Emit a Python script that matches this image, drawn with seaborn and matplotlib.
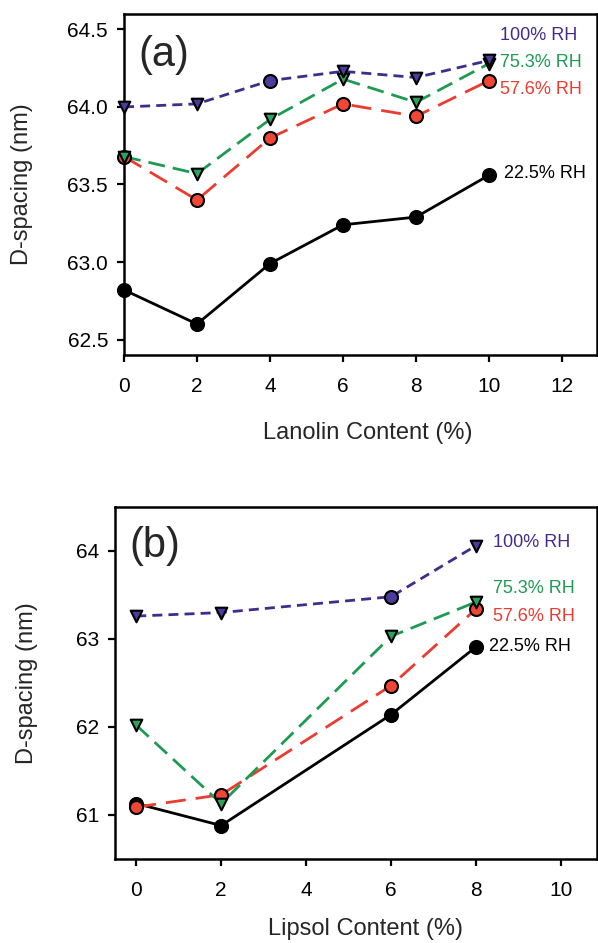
import numpy as np
import pandas as pd
import matplotlib.pyplot as plt
import seaborn as sns

# panel (a): lanolin
lan_x = [0, 2, 4, 6, 8, 10]
lan_225 = [62.82, 62.60, 62.99, 63.24, 63.29, 63.56]
lan_576 = [63.68, 63.40, 63.80, 64.02, 63.94, 64.17]
lan_753 = [63.68, 63.57, 63.92, 64.18, 64.03, 64.28]
lan_100 = [64.00, 64.02, 64.17, 64.23, 64.19, 64.30]
lan_100_marks = ['v', 'v', 'o', 'v', 'v', 'v']

# panel (b): lipsol
lip_x = [0, 2, 6, 8]
lip_225 = [61.13, 60.88, 62.14, 62.91]
lip_576 = [61.09, 61.23, 62.47, 63.34]
lip_753 = [62.02, 61.13, 63.03, 63.42]
lip_100 = [63.26, 63.30, 63.48, 64.06]
lip_100_marks = ['v', 'v', 'o', 'v']

rh_labels = ['22.5% RH', '57.6% RH', '75.3% RH', '100% RH']

sns.set_style("ticks")
plt.rcParams['font.family'] = ['Liberation Sans', 'DejaVu Sans']

purple = '#3f2d8c'
green = '#1e9a52'
red = '#ec3b30'
black = '#000000'
fill_purple = '#4b3b9b'
fill_green = '#2fa35c'
fill_red = '#ef4636'

styles = [
    # line color, fill, dashes, default marker
    (black, black, None, 'o'),
    (red, fill_red, (7.2, 3.6), 'o'),
    (green, fill_green, (6.1, 2.9), 'v'),
    (purple, fill_purple, (3.6, 2.2), 'v'),
]

fig = plt.figure(figsize=(5.98, 9.43), dpi=100)
ax1 = fig.add_axes([0.2074, 0.6235, 0.791, 0.3617])
ax2 = fig.add_axes([0.1923, 0.0891, 0.806, 0.3733])


def draw(ax, x, series, marks100):
    for i, y in enumerate(series):
        color, fill, dash, mk = styles[i]
        sns.lineplot(x=x, y=y, ax=ax, color=color, lw=2.0, legend=False)
        l = ax.lines[-1]
        l.set_clip_on(False)
        if dash is not None:
            l.set_dashes(dash)
        marks = marks100 if i == 3 else [mk] * len(x)
        for m in set(marks):
            xs = [xx for xx, mm in zip(x, marks) if mm == m]
            ys = [yy for yy, mm in zip(y, marks) if mm == m]
            s = 88 if m == 'o' else 70
            sns.scatterplot(x=xs, y=ys, ax=ax, marker=m, s=s, color=fill,
                            edgecolor='black', linewidth=1.5, zorder=5,
                            clip_on=False, legend=False)


draw(ax1, lan_x, [lan_225, lan_576, lan_753, lan_100], lan_100_marks)
draw(ax2, lip_x, [lip_225, lip_576, lip_753, lip_100], lip_100_marks)

# panel (a) axes
ax1.set_xlim(0, 12.96)
ax1.set_ylim(62.4, 64.6)
ax1.set_xticks([0, 2, 4, 6, 8, 10, 12])
ax1.set_yticks([62.5, 63.0, 63.5, 64.0, 64.5])
ax1.set_yticklabels(['62.5', '63.0', '63.5', '64.0', '64.5'])
ax1.set_xlabel('Lanolin Content (%)', fontsize=17)
ax1.set_ylabel('D-spacing (nm)', fontsize=17)
ax1.xaxis.set_label_coords(0.516, -0.195)
ax1.yaxis.set_label_coords(-0.192, 0.5)
ax1.text(0.085, 0.88, '(a)', transform=ax1.transAxes, fontsize=30,
         ha='center', va='center')
ax1.text(10.3, 64.46, rh_labels[3], color=purple, fontsize=13, va='center')
ax1.text(10.3, 64.29, rh_labels[2], color=green, fontsize=13, va='center')
ax1.text(10.3, 64.11, rh_labels[1], color=red, fontsize=13, va='center')
ax1.text(10.4, 63.57, rh_labels[0], color=black, fontsize=13, va='center')

# panel (b) axes
ax2.set_xlim(-0.5, 10.85)
ax2.set_ylim(60.5, 64.5)
ax2.set_xticks([0, 2, 4, 6, 8, 10])
ax2.set_yticks([61, 62, 63, 64])
ax2.set_xlabel('Lipsol Content (%)', fontsize=17)
ax2.set_ylabel('D-spacing (nm)', fontsize=17)
ax2.xaxis.set_label_coords(0.52, -0.168)
ax2.yaxis.set_label_coords(-0.160, 0.5)
ax2.text(0.083, 0.89, '(b)', transform=ax2.transAxes, fontsize=30,
         ha='center', va='center')
ax2.text(8.4, 64.1, rh_labels[3], color=purple, fontsize=13, va='center')
ax2.text(8.4, 63.57, rh_labels[2], color=green, fontsize=13, va='center')
ax2.text(8.4, 63.25, rh_labels[1], color=red, fontsize=13, va='center')
ax2.text(8.3, 62.91, rh_labels[0], color=black, fontsize=13, va='center')

for ax in (ax1, ax2):
    for sp in ax.spines.values():
        sp.set_visible(True)
        sp.set_linewidth(1.8)
        sp.set_color('black')
    ax.tick_params(direction='out', length=5, width=1.6, labelsize=15,
                   colors='black', top=False, right=False)
    ax.tick_params(axis='x', pad=11)
    ax.tick_params(axis='y', pad=6.5)

fig.savefig('out.png', dpi=100, facecolor='white')
